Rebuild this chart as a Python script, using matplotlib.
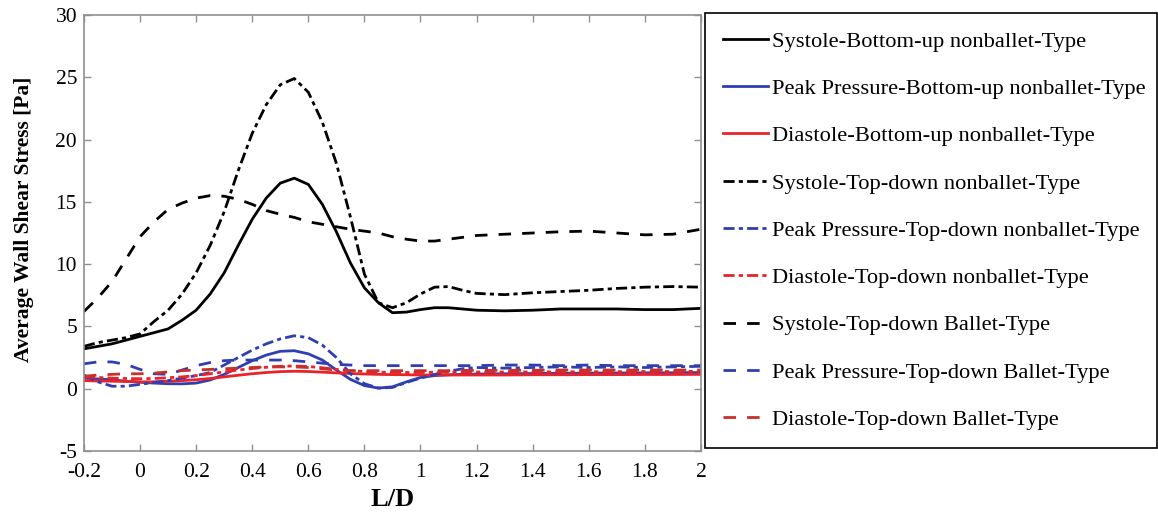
import matplotlib
matplotlib.use("Agg")
import matplotlib.pyplot as plt

plt.rcParams['font.family'] = ['Liberation Serif', 'DejaVu Serif']
plt.rcParams['axes.unicode_minus'] = False

# L/D positions (shared by all curves)
ld = [-0.2, -0.15, -0.1, -0.05, 0, 0.05, 0.1, 0.15, 0.2, 0.25, 0.3, 0.35, 0.4,
      0.45, 0.5, 0.55, 0.6, 0.65, 0.7, 0.75, 0.8, 0.85, 0.9, 0.95, 1.0, 1.05,
      1.1, 1.15, 1.2, 1.3, 1.4, 1.5, 1.6, 1.7, 1.8, 1.9, 2.0]

# average wall shear stress [Pa]
sys_bu = [3.2, 3.4, 3.6, 3.9, 4.2, 4.5, 4.8, 5.5, 6.3, 7.6, 9.3, 11.5, 13.6,
          15.3, 16.5, 16.9, 16.4, 14.8, 12.6, 10.1, 8.1, 6.9, 6.1, 6.15, 6.35,
          6.5, 6.5, 6.4, 6.3, 6.25, 6.3, 6.4, 6.4, 6.4, 6.35, 6.35, 6.45]
pp_bu = [0.85, 0.78, 0.72, 0.6, 0.52, 0.45, 0.4, 0.39, 0.45, 0.7, 1.15, 1.7,
         2.25, 2.7, 3.0, 3.05, 2.8, 2.3, 1.5, 0.75, 0.25, 0.05, 0.15, 0.55,
         0.9, 1.05, 1.12, 1.15, 1.18, 1.2, 1.22, 1.24, 1.25, 1.26, 1.27, 1.28, 1.3]
dia_bu = [0.65, 0.62, 0.6, 0.58, 0.55, 0.55, 0.6, 0.65, 0.72, 0.82, 0.95, 1.08,
          1.2, 1.3, 1.37, 1.4, 1.38, 1.33, 1.27, 1.22, 1.18, 1.15, 1.13, 1.12,
          1.1, 1.1, 1.1, 1.1, 1.1, 1.1, 1.12, 1.12, 1.13, 1.13, 1.14, 1.14, 1.15]
sys_td = [3.4, 3.7, 3.9, 4.1, 4.4, 5.4, 6.3, 7.6, 9.3, 11.5, 14.2, 17.5, 20.5,
          22.8, 24.4, 24.9, 23.8, 21.4, 18.1, 13.8, 9.2, 6.9, 6.5, 6.9, 7.6,
          8.15, 8.2, 7.9, 7.65, 7.55, 7.7, 7.8, 7.9, 8.05, 8.15, 8.2, 8.15]
pp_td = [1.1, 0.55, 0.2, 0.2, 0.35, 0.5, 0.65, 0.85, 1.05, 1.3, 1.9, 2.5, 3.1,
         3.6, 4.0, 4.25, 4.1, 3.5, 2.5, 1.2, 0.4, 0.05, 0.1, 0.5, 0.85, 1.15,
         1.4, 1.6, 1.7, 1.65, 1.7, 1.75, 1.7, 1.75, 1.7, 1.75, 1.8]
dia_td = [0.95, 0.9, 0.85, 0.82, 0.8, 0.82, 0.88, 0.95, 1.05, 1.2, 1.35, 1.5,
          1.62, 1.72, 1.8, 1.82, 1.78, 1.68, 1.55, 1.45, 1.38, 1.33, 1.3, 1.3,
          1.3, 1.32, 1.33, 1.33, 1.34, 1.34, 1.35, 1.36, 1.36, 1.37, 1.38, 1.38, 1.4]
sys_bal = [6.2, 7.3, 8.6, 10.4, 12.2, 13.4, 14.4, 14.9, 15.3, 15.5, 15.45, 15.2,
           14.8, 14.3, 14.0, 13.75, 13.4, 13.2, 13.0, 12.8, 12.65, 12.5, 12.2,
           12.0, 11.85, 11.85, 12.0, 12.15, 12.3, 12.4, 12.5, 12.6, 12.65, 12.5,
           12.35, 12.4, 12.8]
pp_bal = [2.0, 2.15, 2.15, 1.95, 1.55, 1.2, 1.15, 1.5, 1.85, 2.1, 2.25, 2.3,
          2.3, 2.3, 2.3, 2.25, 2.15, 2.05, 1.95, 1.9, 1.85, 1.85, 1.85, 1.85,
          1.85, 1.85, 1.85, 1.85, 1.85, 1.9, 1.9, 1.85, 1.9, 1.85, 1.85, 1.85, 1.85]
dia_bal = [1.0, 1.1, 1.15, 1.2, 1.2, 1.25, 1.35, 1.45, 1.5, 1.55, 1.6, 1.65,
           1.7, 1.75, 1.75, 1.75, 1.7, 1.6, 1.5, 1.45, 1.45, 1.45, 1.45, 1.45,
           1.45, 1.45, 1.45, 1.47, 1.47, 1.48, 1.48, 1.5, 1.5, 1.5, 1.5, 1.5, 1.5]

labels = ['Systole-Bottom-up nonballet-Type',
          'Peak Pressure-Bottom-up nonballet-Type',
          'Diastole-Bottom-up nonballet-Type',
          'Systole-Top-down nonballet-Type',
          'Peak Pressure-Top-down nonballet-Type',
          'Diastole-Top-down nonballet-Type',
          'Systole-Top-down Ballet-Type',
          'Peak Pressure-Top-down Ballet-Type',
          'Diastole-Top-down Ballet-Type']

black = 'black'
blue = '#2F3FB0'
red = '#E8232A'
red2 = '#C8302C'
dashdot = (0, (4, 1.5, 1.5, 1.5))
dashed = (0, (4.5, 4))

fig = plt.figure(figsize=(11.58, 5.15), dpi=100)
ax = fig.add_axes([0.0725, 0.1243, 0.5328, 0.8466])

lw = 2
ax.plot(ld, sys_bu, color=black, lw=lw, label=labels[0])
ax.plot(ld, pp_bu, color=blue, lw=lw, label=labels[1])
ax.plot(ld, dia_bu, color=red, lw=lw, label=labels[2])
ax.plot(ld, sys_td, color=black, lw=lw, ls=dashdot, label=labels[3])
ax.plot(ld, pp_td, color=blue, lw=lw, ls=dashdot, label=labels[4])
ax.plot(ld, dia_td, color=red, lw=lw, ls=dashdot, label=labels[5])
ax.plot(ld, sys_bal, color=black, lw=lw, ls=dashed, label=labels[6])
ax.plot(ld, pp_bal, color=blue, lw=lw, ls=dashed, label=labels[7])
ax.plot(ld, dia_bal, color=red2, lw=lw, ls=dashed, label=labels[8])

ax.set_xlim(-0.2, 2)
ax.set_ylim(-5, 30)
xt = [-0.2, 0, 0.2, 0.4, 0.6, 0.8, 1, 1.2, 1.4, 1.6, 1.8, 2]
ax.set_xticks(xt)
ax.set_xticklabels(['-0.2', '0', '0.2', '0.4', '0.6', '0.8', '1', '1.2', '1.4',
                    '1.6', '1.8', '2'])
ax.set_yticks(range(-5, 31, 5))
ax.tick_params(direction='in', top=True, right=True, length=5, width=1,
               color='#909090', labelsize=15.5)
ax.tick_params(axis='x', pad=9)
ax.tick_params(axis='y', pad=5)
for s in ax.spines.values():
    s.set_color('#909090')
    s.set_linewidth(1.2)

ax.set_xlabel('L/D', fontsize=19, fontweight='bold', labelpad=4)
ax.set_ylabel('Average Wall Shear Stress [Pa]', fontsize=15.5, fontweight='bold')
ax.yaxis.set_label_coords(-0.081, 0.532)

leg = fig.legend(loc='upper left', bbox_to_anchor=(0.6088, 0.126, 0.390, 0.849),
                 mode='expand', borderaxespad=0, fontsize=16.2, handlelength=2.0,
                 handletextpad=0.2, labelspacing=1.18, borderpad=0.8,
                 fancybox=False, framealpha=1, edgecolor='black')
leg.get_frame().set_linewidth(1.2)

fig.savefig('out.png', dpi=100)
